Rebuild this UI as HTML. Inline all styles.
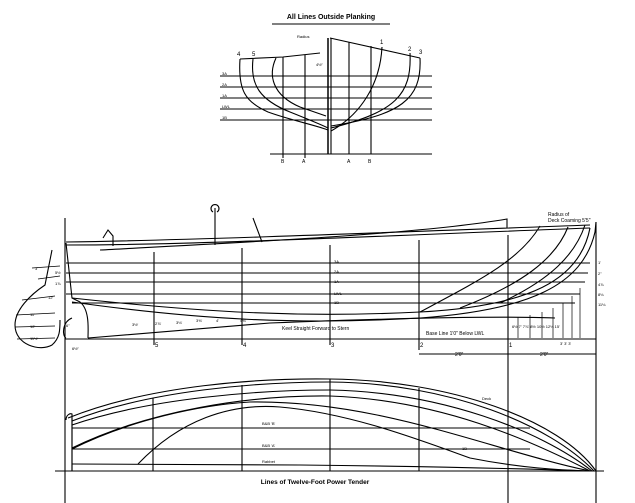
<!DOCTYPE html>
<html><head><meta charset="utf-8"><style>
html,body{margin:0;padding:0;background:#fff}
svg{display:block}
text{font-family:"Liberation Sans",sans-serif;fill:#000}
</style></head><body>
<svg width="635" height="503" viewBox="0 0 635 503" xmlns="http://www.w3.org/2000/svg">
<g fill="none" stroke="#000" stroke-width="1.1">
<!-- BODY PLAN -->
<line x1="272" y1="24" x2="390" y2="24"/>
<text x="331" y="19" font-size="7" text-anchor="middle" stroke="none" font-weight="bold">All Lines Outside Planking</text>
<line x1="220" y1="76" x2="432" y2="76"/><line x1="220" y1="87" x2="432" y2="87"/>
<line x1="220" y1="98" x2="432" y2="98"/><line x1="220" y1="109" x2="432" y2="109"/>
<line x1="220" y1="120" x2="432" y2="120"/>
<line x1="270" y1="154" x2="432" y2="154"/>
<path d="M240 59 L283 57 L320 53"/>
<path d="M330 38 L420 58"/>
<line x1="328" y1="38" x2="328" y2="154" stroke-width="1.5"/>
<line x1="331" y1="38" x2="331" y2="154"/>
<line x1="283" y1="57" x2="283" y2="158"/><line x1="305" y1="55" x2="305" y2="158"/>
<line x1="349" y1="42" x2="349" y2="154"/><line x1="371" y1="46" x2="371" y2="154"/>
<path d="M240 59 C238 90 245 102 268 112 C290 120 315 125 328 130"/>
<path d="M253 59 C250 85 260 100 290 112 C305 118 320 124 328 128"/>
<path d="M276 58 C268 75 272 95 300 107 L326 116"/>
<path d="M382 47 C380 85 360 115 331 131"/>
<path d="M410 53 C412 95 395 112 331 128"/>
<path d="M420 58 C422 100 400 115 331 126"/>
<text x="237" y="56" font-size="6" stroke="none">4</text><text x="252" y="56" font-size="6" stroke="none">5</text>
<text x="380" y="44" font-size="6" stroke="none">1</text><text x="408" y="51" font-size="6" stroke="none">2</text><text x="419" y="54" font-size="6" stroke="none">3</text>
<text x="281" y="163" font-size="5" stroke="none">B</text><text x="302" y="163" font-size="5" stroke="none">A</text>
<text x="347" y="163" font-size="5" stroke="none">A</text><text x="368" y="163" font-size="5" stroke="none">B</text>
<text x="222" y="75" font-size="4" stroke="none">3A</text><text x="222" y="86" font-size="4" stroke="none">2A</text>
<text x="222" y="97" font-size="4" stroke="none">1A</text><text x="222" y="108" font-size="4" stroke="none">LWL</text>
<text x="222" y="119" font-size="4" stroke="none">1B</text>
<text x="297" y="38" font-size="4" stroke="none">Radius</text>
<text x="316" y="66" font-size="4" stroke="none">4½"</text>
<!-- PROFILE -->
<line x1="65" y1="218" x2="65" y2="503"/>
<line x1="596" y1="222" x2="596" y2="503"/>
<line x1="65" y1="339" x2="596" y2="339"/>
<path d="M66 242 C200 240 400 232 590 225"/>
<path d="M66 245 C200 245 400 235 590 228"/>
<path d="M100 250 C250 242 420 234 507 219 L507 228"/>
<line x1="66" y1="263" x2="590" y2="263"/><line x1="66" y1="273" x2="588" y2="273"/>
<line x1="66" y1="282" x2="585" y2="282"/><line x1="66" y1="294" x2="580" y2="294"/>
<line x1="72" y1="303" x2="575" y2="303"/>
<path d="M72 298 C200 312 300 318 420 312 C530 306 580 280 590 228"/>
<path d="M72 302 C200 320 300 325 420 318 C530 310 583 285 595 232 L596 222"/>
<path d="M88 338 L270 323 C400 318 500 316 555 318"/>
<path d="M66 243 L72 298 L80 302 C90 310 88 330 88 338"/>
<path d="M72 318 C62 322 62 336 66 338"/>
<line x1="154" y1="252" x2="154" y2="345"/><line x1="242" y1="248" x2="242" y2="345"/>
<line x1="330" y1="245" x2="330" y2="345"/><line x1="419" y1="240" x2="419" y2="350"/>
<line x1="508" y1="235" x2="508" y2="503"/>
<path d="M420 312 C480 280 520 260 540 226"/>
<path d="M460 308 C520 285 555 260 568 227"/>
<path d="M500 303 C550 280 575 255 585 225"/>
<path d="M52 250 L45 285 C30 295 15 310 15 325 C15 345 40 352 52 345 C60 338 60 330 60 320"/>
<g stroke-width="0.7">
<line x1="32" y1="268" x2="60" y2="266"/><line x1="38" y1="279" x2="60" y2="276"/>
<line x1="22" y1="300" x2="55" y2="296"/><line x1="16" y1="315" x2="55" y2="313"/>
<line x1="15" y1="327" x2="55" y2="326"/><line x1="17" y1="339" x2="55" y2="338"/>
<line x1="518" y1="317" x2="518" y2="338"/><line x1="530" y1="315" x2="530" y2="338"/>
<line x1="542" y1="312" x2="542" y2="338"/><line x1="553" y1="308" x2="553" y2="338"/>
<line x1="563" y1="303" x2="563" y2="338"/><line x1="572" y1="296" x2="572" y2="338"/>
<line x1="580" y1="288" x2="580" y2="338"/>
</g>
<text x="35" y="270" font-size="4" stroke="none">3'</text><text x="55" y="274" font-size="4" stroke="none">5½</text>
<text x="55" y="285" font-size="4" stroke="none">1⅞</text><text x="48" y="299" font-size="4" stroke="none">12'</text>
<text x="30" y="316" font-size="4" stroke="none">11'</text><text x="30" y="328" font-size="4" stroke="none">12'</text>
<text x="30" y="340" font-size="4" stroke="none">11½'</text><text x="66" y="327" font-size="4" stroke="none">6"</text>
<text x="72" y="350" font-size="4" stroke="none">6½"</text>
<text x="132" y="326" font-size="4" stroke="none">3½'</text><text x="155" y="325" font-size="4" stroke="none">2⅞'</text>
<text x="176" y="324" font-size="4" stroke="none">3⅛'</text><text x="196" y="322" font-size="4" stroke="none">3⅝'</text>
<text x="216" y="322" font-size="4" stroke="none">4'</text><text x="240" y="322" font-size="4" stroke="none">4⅜'</text>
<text x="512" y="328" font-size="4" stroke="none">6½ 7' 7⅞' 8½ 10½ 12⅛ 15'</text>
<text x="598" y="264" font-size="4" stroke="none">1'</text><text x="598" y="275" font-size="4" stroke="none">2"</text>
<text x="598" y="286" font-size="4" stroke="none">4⅞</text><text x="598" y="296" font-size="4" stroke="none">8⅛</text>
<text x="598" y="306" font-size="4" stroke="none">11⅛</text>
<text x="560" y="345" font-size="4" stroke="none">3' 3' 3'</text>
<path d="M215 208 L215 245 M213 212 a4 4 0 1 1 4 0"/>
<path d="M253 218 L262 242"/>
<path d="M103 238 L108 230 L113 236 L113 246"/>
<line x1="419" y1="354" x2="596" y2="354"/>
<text x="334" y="263" font-size="4" stroke="none">3A</text><text x="334" y="273" font-size="4" stroke="none">2A</text>
<text x="334" y="283" font-size="4" stroke="none">1A</text><text x="334" y="295" font-size="4" stroke="none">LWL</text>
<text x="334" y="304" font-size="4" stroke="none">1B</text>
<text x="282" y="330" font-size="5" stroke="none">Keel Straight Forward to Stern</text>
<text x="426" y="335" font-size="5" stroke="none">Base Line 1'0" Below LWL</text>
<text x="548" y="216" font-size="5" stroke="none">Radius of</text>
<text x="548" y="222" font-size="5" stroke="none">Deck Coaming 5'5"</text>
<text x="155" y="347" font-size="6" stroke="none">5</text><text x="243" y="347" font-size="6" stroke="none">4</text>
<text x="331" y="347" font-size="6" stroke="none">3</text><text x="420" y="347" font-size="6" stroke="none">2</text>
<text x="509" y="347" font-size="6" stroke="none">1</text>
<text x="455" y="356" font-size="5" stroke="none">2'0"</text><text x="540" y="356" font-size="5" stroke="none">2'0"</text>
<!-- PLAN -->
<line x1="55" y1="471" x2="604" y2="471"/>
<line x1="72" y1="418" x2="72" y2="471"/>
<line x1="153" y1="398" x2="153" y2="471"/><line x1="242" y1="385" x2="242" y2="471"/>
<line x1="330" y1="379" x2="330" y2="471"/><line x1="419" y1="388" x2="419" y2="471"/>
<line x1="72" y1="428" x2="530" y2="428"/><line x1="72" y1="449" x2="530" y2="449"/>
<path d="M68 418 C150 385 260 378 330 379 C450 380 560 420 596 471"/>
<path d="M72 421 C150 390 260 382 330 382 C450 383 550 425 594 471"/>
<path d="M72 425 C150 398 260 390 330 390 C440 392 540 430 592 471"/>
<path d="M72 448 C150 410 250 395 330 396 C440 400 530 440 590 471"/>
<path d="M72 449 C130 420 200 405 250 402 C380 400 490 450 590 471"/>
<path d="M138 464 C180 420 230 403 280 407 C350 413 420 440 470 458 C520 468 560 470 590 471"/>
<path d="M72 464 L300 465 C400 466 500 468 590 471"/>
<path d="M66 420 C66 415 70 413 72 414 L72 471"/>
<text x="262" y="425" font-size="4" stroke="none">B&amp;B 'B'</text>
<text x="262" y="447" font-size="4" stroke="none">B&amp;B 'A'</text>
<text x="262" y="463" font-size="4" stroke="none">Rabbet</text>
<text x="462" y="450" font-size="4" stroke="none">1B</text>
<text x="482" y="400" font-size="4" stroke="none">Deck</text>
<text x="315" y="484" font-size="6.5" font-weight="bold" text-anchor="middle" stroke="none">Lines of Twelve-Foot Power Tender</text>
</g>
</svg>
</body></html>
